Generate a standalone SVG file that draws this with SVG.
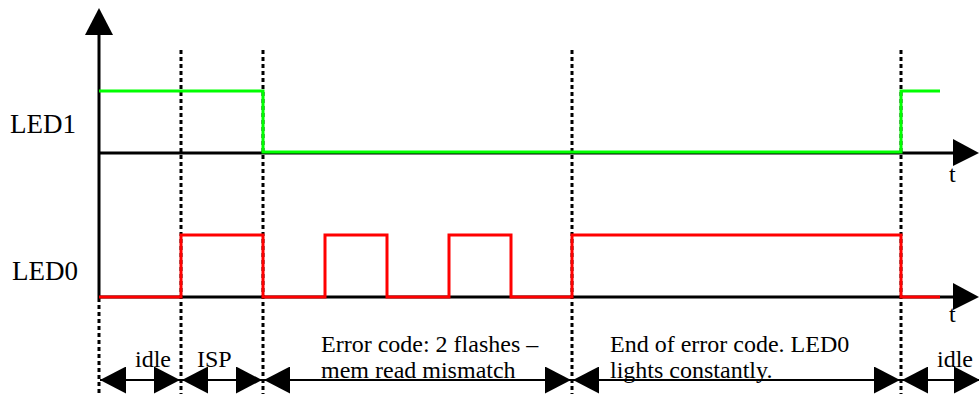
<svg xmlns="http://www.w3.org/2000/svg" width="979" height="394" viewBox="0 0 979 394">
<style>
  .axis{stroke:#000;stroke-width:3;fill:none}
  .dot{stroke:#000;stroke-width:3;stroke-dasharray:4 3;fill:none}
  .green{stroke:#00ff00;stroke-width:3;fill:none}
  .red{stroke:#ff0000;stroke-width:3;fill:none}
  .span{stroke:#000;stroke-width:2;fill:none;marker-start:url(#ah);marker-end:url(#ah)}
  .head{fill:#000}
  .lbl{font-family:"Liberation Serif","Times New Roman",serif;font-size:24px;fill:#000}
  .big{font-size:27px}
</style>
<defs>
  <marker id="ah" viewBox="0 0 26 27" refX="26" refY="13.5" markerWidth="26" markerHeight="27" markerUnits="userSpaceOnUse" orient="auto-start-reverse">
    <path d="M0,0 L26,13.5 L0,27 Z" fill="#000"/>
  </marker>
</defs>
<rect width="979" height="394" fill="#fff"/>
<g id="grid">
  <line class="dot" x1="181" y1="50" x2="181" y2="394"/>
  <line class="dot" x1="263" y1="50" x2="263" y2="394"/>
  <line class="dot" x1="572" y1="50" x2="572" y2="394"/>
  <line class="dot" x1="901" y1="50" x2="901" y2="394"/>
  <line class="dot" x1="99" y1="298" x2="99" y2="394"/>
</g>
<g id="axes">
  <line class="axis" x1="99" y1="33" x2="99" y2="298"/>
  <polygon class="head" points="85,35 99,8 113,35"/>
  <line class="axis" x1="99" y1="153" x2="955" y2="153"/>
  <polygon class="head" points="953,139 979,153 953,166"/>
  <line class="axis" x1="99" y1="297" x2="955" y2="297"/>
  <polygon class="head" points="953,283 979,297 953,310"/>
</g>
<g id="LED1-signal">
  <polyline class="green" points="99,91 263,91 263,152 901,152 901,91 940,91"/>
</g>
<g id="LED0-signal">
  <polyline class="red" points="99,297 181,297 181,235 263,235 263,297 325,297 325,235 387,235 387,297 449,297 449,235 511,235 511,297 572,297 572,235 901,235 901,297 940,297"/>
</g>
<g id="connectors">
  <line class="span" x1="100" y1="380" x2="180" y2="380"/>
  <line class="span" x1="182" y1="380" x2="262" y2="380"/>
  <line class="span" x1="264" y1="380" x2="571" y2="380"/>
  <line class="span" x1="573" y1="380" x2="900" y2="380"/>
  <line class="span" x1="902" y1="380" x2="980" y2="380"/>
</g>
<g id="labels">
  <text class="lbl big" x="10" y="133">LED1</text>
  <text class="lbl big" x="12" y="280">LED0</text>
  <text class="lbl" x="949" y="182">t</text>
  <text class="lbl" x="949" y="322">t</text>
  <text class="lbl" x="135" y="367">idle</text>
  <text class="lbl" x="197" y="367">ISP</text>
  <text class="lbl" x="321" y="352">Error code: 2 flashes –</text>
  <text class="lbl" x="321" y="378">mem read mismatch</text>
  <text class="lbl" x="610" y="352">End of error code. LED0</text>
  <text class="lbl" x="610" y="378">lights constantly.</text>
  <text class="lbl" x="937" y="367">idle</text>
</g>
</svg>
